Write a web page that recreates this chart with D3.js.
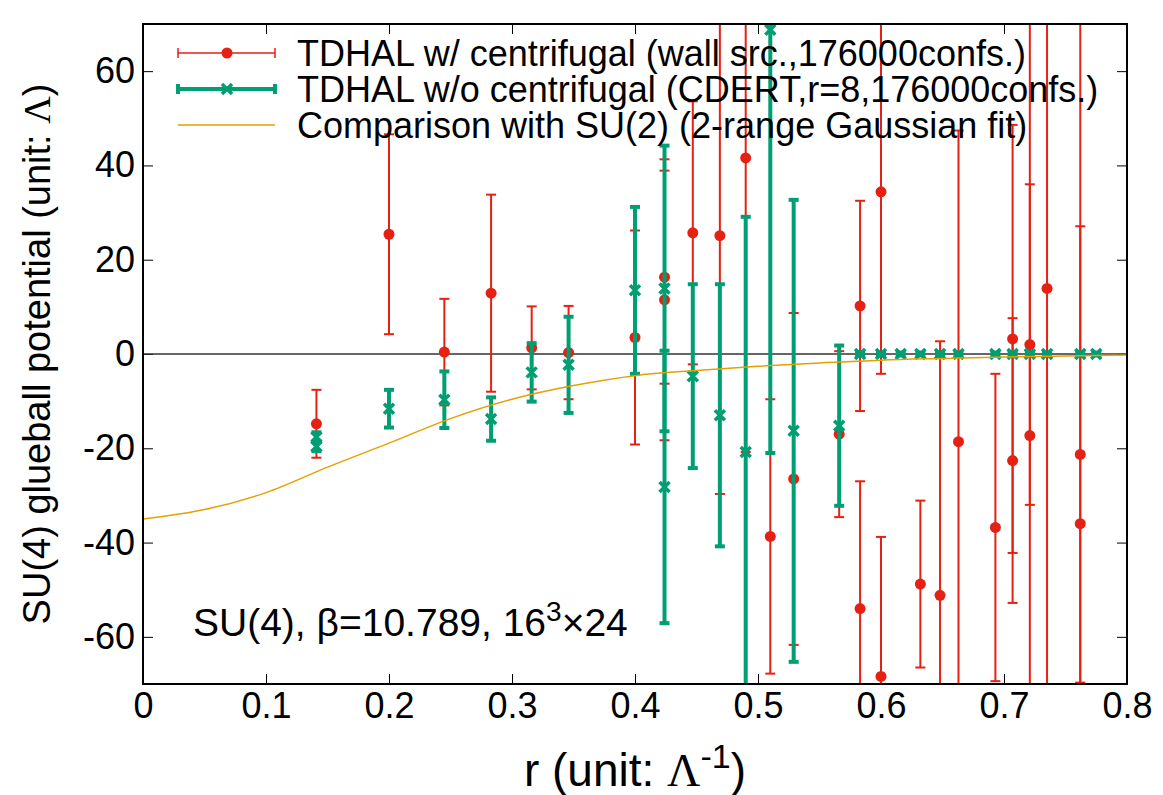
<!DOCTYPE html>
<html lang="en">
<head>
<meta charset="UTF-8"/>
<title>SU(4) glueball potential</title>
<script src="https://d3js.org/d3.v7.min.js"></script>
<style>
  body { margin: 0; background: #fff; }
  svg { display: block; font-family: "Liberation Sans", Arial, Helvetica, sans-serif; }
  .tick line { stroke: #000; stroke-width: 1; }
</style>
</head>
<body>
<script>
// --- data ---
// TDHAL w/ centrifugal (wall src.): r, V, error
var wallR   = [0.141, 0.2, 0.245, 0.283, 0.316, 0.346, 0.4, 0.424, 0.424, 0.447, 0.469, 0.49, 0.51, 0.529, 0.566,
               0.583, 0.583, 0.6, 0.6, 0.632, 0.648, 0.663, 0.693, 0.707, 0.707, 0.721, 0.721, 0.735, 0.762, 0.762];
var wallV   = [-14.8, 25.4, 0.4, 12.9, 1.3, 0.3, 3.5, 16.3, 11.5, 25.7, 25.1, 41.6, -38.7, -26.5, -17.0,
               10.2, -54.0, 34.4, -68.4, -48.8, -51.2, -18.6, -36.8, 3.2, -22.6, 2.0, -17.3, 13.9, -21.3, -36.0];
var wallErr = [7.2, 21.2, 11.3, 20.9, 8.8, 9.9, 22.7, 22.6, 29.8, 27.9, 54.8, 62.4, 29.1, 35.2, 17.6,
               22.3, 27.0, 38.6, 29.6, 17.7, 53.9, 66.0, 32.6, 45.4, 30.2, 34.0, 95.0, 95.0, 48.4, 110.0];

// TDHAL w/o centrifugal (CDERT)
var cdertR   = [0.141, 0.141, 0.2, 0.245, 0.283, 0.316, 0.346, 0.4, 0.424, 0.424, 0.447, 0.469, 0.49, 0.51, 0.529, 0.566,
                0.583, 0.6, 0.616, 0.632, 0.648, 0.663, 0.693, 0.707, 0.721, 0.735, 0.762, 0.775];
var cdertV   = [-17.6, -19.6, -11.6, -9.7, -13.8, -3.9, -2.3, 13.5, 13.9, -28.2, -4.7, -13.0, -20.8, 68.8, -16.3, -15.2,
                0, 0, 0, 0, 0, 0, 0, 0, 0, 0, 0, 0];
var cdertErr = [1.0, 1.0, 4.0, 6.0, 4.6, 6.2, 10.2, 17.7, 30.3, 28.9, 19.5, 27.8, 49.9, 89.8, 49.0, 17.0,
                0.3, 0.3, 0.3, 0.3, 0.3, 0.3, 0.3, 0.3, 0.3, 0.3, 0.3, 0.3];

// SU(2) comparison curve (2-range Gaussian fit)
var fitR = [0, 0.05, 0.1, 0.15, 0.2, 0.25, 0.3, 0.35, 0.4, 0.45, 0.5, 0.55, 0.6, 0.65, 0.7, 0.75, 0.8];
var fitV = [-35.0, -33.0, -29.4, -24.0, -18.9, -13.7, -9.6, -6.7, -4.6, -3.5, -2.6, -1.9, -1.3, -0.95, -0.65, -0.4, -0.2];

var xTicks = [0, 0.1, 0.2, 0.3, 0.4, 0.5, 0.6, 0.7, 0.8];
var yTicks = [-60, -40, -20, 0, 20, 40, 60];

var legendLabels = ["TDHAL w/ centrifugal (wall src.,176000confs.)",
                    "TDHAL w/o centrifugal (CDERT,r=8,176000confs.)",
                    "Comparison with SU(2) (2-range Gaussian fit)"];

var red = "#e62012", green = "#009e73", gold = "#e6a000";

var w = 1163, h = 795;
var padL = 143, padR = 1127, padT = 24, padB = 684;

var xScale = d3.scaleLinear().domain([0, 0.8]).range([padL, padR]);
var yScale = d3.scaleLinear().domain([-70, 70]).range([padB, padT]);

var svg = d3.select("body").append("svg")
  .attr("width", w)
  .attr("height", h);

svg.append("clipPath").attr("id", "plotclip")
  .append("rect")
  .attr("x", padL).attr("y", padT)
  .attr("width", padR - padL).attr("height", padB - padT);

// axes, ticks pointing inward
var xAxis = d3.axisBottom(xScale).tickValues(xTicks).tickSize(-10).tickPadding(8)
  .tickFormat(function(d) { return d === 0 ? "0" : d3.format(".1f")(d); });
var yAxis = d3.axisLeft(yScale).tickValues(yTicks).tickSize(-10).tickPadding(8)
  .tickFormat(function(d) { return String(d); });

function styleAxis(g) {
  g.select(".domain").remove();
  g.selectAll("text").attr("font-size", 36).attr("fill", "#000")
    .attr("font-family", "Liberation Sans, Arial, sans-serif");
}

svg.append("g").attr("transform", "translate(0," + padB + ")").call(xAxis).call(styleAxis);
svg.append("g").attr("transform", "translate(" + padL + ",0)").call(yAxis).call(styleAxis);
svg.append("g").attr("transform", "translate(0," + padT + ")")
  .call(d3.axisTop(xScale).tickValues(xTicks).tickSize(-10).tickFormat(""))
  .call(styleAxis);
svg.append("g").attr("transform", "translate(" + padR + ",0)")
  .call(d3.axisRight(yScale).tickValues(yTicks).tickSize(-10).tickFormat(""))
  .call(styleAxis);

// zero axis
svg.append("line")
  .attr("x1", padL).attr("x2", padR)
  .attr("y1", yScale(0)).attr("y2", yScale(0))
  .attr("stroke", "#333").attr("stroke-width", 1.5);

var plot = svg.append("g").attr("clip-path", "url(#plotclip)");

var wallData = wallR.map(function(r, i) { return { r: r, v: wallV[i], e: wallErr[i] }; });
var cdertData = cdertR.map(function(r, i) { return { r: r, v: cdertV[i], e: cdertErr[i] }; });

function errorBars(g, data, color, lw, capW) {
  var bar = g.selectAll(null).data(data).enter().append("g");
  bar.append("line")
    .attr("x1", function(d) { return xScale(d.r); })
    .attr("x2", function(d) { return xScale(d.r); })
    .attr("y1", function(d) { return yScale(d.v - d.e); })
    .attr("y2", function(d) { return yScale(d.v + d.e); })
    .attr("stroke", color).attr("stroke-width", lw);
  [-1, 1].forEach(function(s) {
    bar.append("line")
      .attr("x1", function(d) { return xScale(d.r) - capW / 2; })
      .attr("x2", function(d) { return xScale(d.r) + capW / 2; })
      .attr("y1", function(d) { return yScale(d.v + s * d.e); })
      .attr("y2", function(d) { return yScale(d.v + s * d.e); })
      .attr("stroke", color).attr("stroke-width", lw);
  });
}

function crossPath(cx, cy, s) {
  return "M" + (cx - s) + "," + (cy - s) + "L" + (cx + s) + "," + (cy + s) +
         "M" + (cx - s) + "," + (cy + s) + "L" + (cx + s) + "," + (cy - s);
}

// red series
errorBars(plot, wallData, red, 2, 10);
plot.selectAll(null).data(wallData).enter().append("circle")
  .attr("cx", function(d) { return xScale(d.r); })
  .attr("cy", function(d) { return yScale(d.v); })
  .attr("r", 5.5)
  .attr("fill", red);

// green series
errorBars(plot, cdertData, green, 4, 10);
plot.selectAll(null).data(cdertData).enter().append("path")
  .attr("d", function(d) { return crossPath(xScale(d.r), yScale(d.v), 5); })
  .attr("stroke", green).attr("stroke-width", 3.5).attr("fill", "none");

// fit curve
var line = d3.line()
  .x(function(d) { return xScale(d[0]); })
  .y(function(d) { return yScale(d[1]); })
  .curve(d3.curveMonotoneX);
plot.append("path")
  .datum(fitR.map(function(r, i) { return [r, fitV[i]]; }))
  .attr("d", line)
  .attr("fill", "none").attr("stroke", gold).attr("stroke-width", 1.5);

// frame
svg.append("rect")
  .attr("x", padL).attr("y", padT)
  .attr("width", padR - padL).attr("height", padB - padT)
  .attr("fill", "none").attr("stroke", "#000").attr("stroke-width", 2);

// legend
var lx1 = 178, lx2 = 275, lxm = 227, ltx = 297;
var rows = [53, 89, 125];
legendLabels.forEach(function(t, i) {
  svg.append("text").attr("x", ltx).attr("y", rows[i] + 12.5)
    .attr("font-size", 36).text(t);
});
// red sample
svg.append("line").attr("x1", lx1).attr("x2", lx2).attr("y1", rows[0]).attr("y2", rows[0])
  .attr("stroke", red).attr("stroke-width", 1.5);
[lx1, lx2].forEach(function(x) {
  svg.append("line").attr("x1", x).attr("x2", x).attr("y1", rows[0] - 5).attr("y2", rows[0] + 5)
    .attr("stroke", red).attr("stroke-width", 1.5);
});
svg.append("circle").attr("cx", lxm).attr("cy", rows[0]).attr("r", 5.5).attr("fill", red);
// green sample
svg.append("line").attr("x1", lx1).attr("x2", lx2).attr("y1", rows[1]).attr("y2", rows[1])
  .attr("stroke", green).attr("stroke-width", 4);
[lx1, lx2].forEach(function(x) {
  svg.append("line").attr("x1", x).attr("x2", x).attr("y1", rows[1] - 5).attr("y2", rows[1] + 5)
    .attr("stroke", green).attr("stroke-width", 4);
});
svg.append("path").attr("d", crossPath(lxm, rows[1], 5))
  .attr("stroke", green).attr("stroke-width", 3.5).attr("fill", "none");
// gold sample
svg.append("line").attr("x1", lx1).attr("x2", lx2).attr("y1", rows[2]).attr("y2", rows[2])
  .attr("stroke", gold).attr("stroke-width", 1.5);

// annotation
var ann = svg.append("text").attr("x", 193).attr("y", 636).attr("font-size", 39);
ann.append("tspan").text("SU(4), \u03b2=10.789, 16");
ann.append("tspan").attr("dy", -15).attr("font-size", 28).text("3");
ann.append("tspan").attr("dy", 15).text("\u00d724");

// x axis title
var xt = svg.append("text").attr("x", (padL + padR) / 2).attr("y", 786)
  .attr("text-anchor", "middle").attr("font-size", 46);
xt.append("tspan").text("r (unit: ");
xt.append("tspan").attr("font-family", "Liberation Serif, serif").text("\u039b");
xt.append("tspan").attr("dy", -18).attr("font-size", 34).text("-1");
xt.append("tspan").attr("dy", 18).text(")");

// y axis title
var yt = svg.append("text")
  .attr("transform", "translate(50," + ((padT + padB) / 2) + ") rotate(-90)")
  .attr("text-anchor", "middle").attr("font-size", 38);
yt.append("tspan").text("SU(4) glueball potential (unit: ");
yt.append("tspan").attr("font-family", "Liberation Serif, serif").text("\u039b");
yt.append("tspan").text(")");
</script>
</body>
</html>
